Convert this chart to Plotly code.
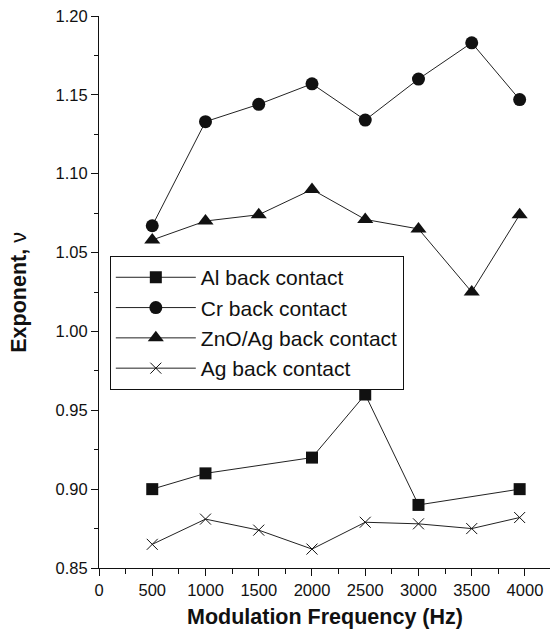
import plotly.graph_objects as go

freq_al = [500, 1000, 2000, 2500, 3000, 3950]
al = [0.900, 0.910, 0.920, 0.960, 0.890, 0.900]

freq = [500, 1000, 1500, 2000, 2500, 3000, 3500, 3950]
cr = [1.067, 1.133, 1.144, 1.157, 1.134, 1.160, 1.183, 1.147]
zno = [1.058, 1.070, 1.074, 1.090, 1.071, 1.065, 1.025, 1.074]
ag = [0.865, 0.881, 0.874, 0.862, 0.879, 0.878, 0.875, 0.882]

names = ["Al back contact", "Cr back contact", "ZnO/Ag back contact", "Ag back contact"]
x_title = "<b>Modulation Frequency (Hz)</b>"
y_title = "<b>Exponent,</b> ν"

fig = go.Figure()
line = dict(color="#222222", width=1)
fig.add_trace(go.Scatter(x=freq_al, y=al, name=names[0], mode="lines+markers", line=line,
                         marker=dict(symbol="square", size=12, color="#111111"), legendgroup="a"))
fig.add_trace(go.Scatter(x=freq, y=cr, name=names[1], mode="lines+markers", line=line,
                         marker=dict(symbol="circle", size=13, color="#111111"), legendgroup="b"))
fig.add_trace(go.Scatter(x=freq, y=zno, name=names[2], mode="lines+markers", line=line,
                         marker=dict(symbol="triangle-up", size=14, color="#111111"), legendgroup="c"))
fig.add_trace(go.Scatter(x=freq, y=ag, name=names[3], mode="lines+markers", line=line,
                         marker=dict(symbol="x-thin", size=11, color="#111111",
                                     line=dict(color="#111111", width=1)), legendgroup="d"))

font = "Liberation Sans, Arial, sans-serif"
fig.update_layout(
    width=551, height=629,
    margin=dict(l=99, r=1, t=16, b=61, autoexpand=False),
    plot_bgcolor="white", paper_bgcolor="white",
    font=dict(family=font, size=16.5, color="#111111"),
    legend=dict(x=0.024, y=0.565, xanchor="left", yanchor="top",
                bordercolor="#111111", borderwidth=1, bgcolor="white",
                font=dict(size=21), tracegroupgap=0, itemwidth=80),
    showlegend=True,
)
fig.add_annotation(text=x_title, xref="paper", yref="paper", x=0.5, y=-0.0893,
                   xanchor="center", yanchor="middle", showarrow=False, font=dict(size=21.5))
fig.add_annotation(text=y_title, xref="paper", yref="paper", x=-0.178, y=0.5, textangle=-90,
                   xanchor="center", yanchor="middle", showarrow=False, font=dict(size=21.5))
fig.update_xaxes(range=[0, 4235], tick0=0, dtick=500, ticks="outside", ticklen=7,
                 showline=True, linecolor="#111111", linewidth=1, showgrid=False, zeroline=False,
                 minor=dict(dtick=250, ticks="outside", ticklen=5, tickcolor="#111111"),
                 tickcolor="#111111", automargin=False)
fig.update_yaxes(range=[0.85, 1.20], tick0=0.85, dtick=0.05, tickformat=".2f", ticks="outside", ticklen=7,
                 showline=True, linecolor="#111111", linewidth=1, showgrid=False, zeroline=False,
                 minor=dict(dtick=0.025, ticks="outside", ticklen=4, tickcolor="#111111"),
                 tickcolor="#111111", automargin=False)

fig.write_html("out.html", config={"displayModeBar": False},
               post_script="document.body.style.margin='0';")
